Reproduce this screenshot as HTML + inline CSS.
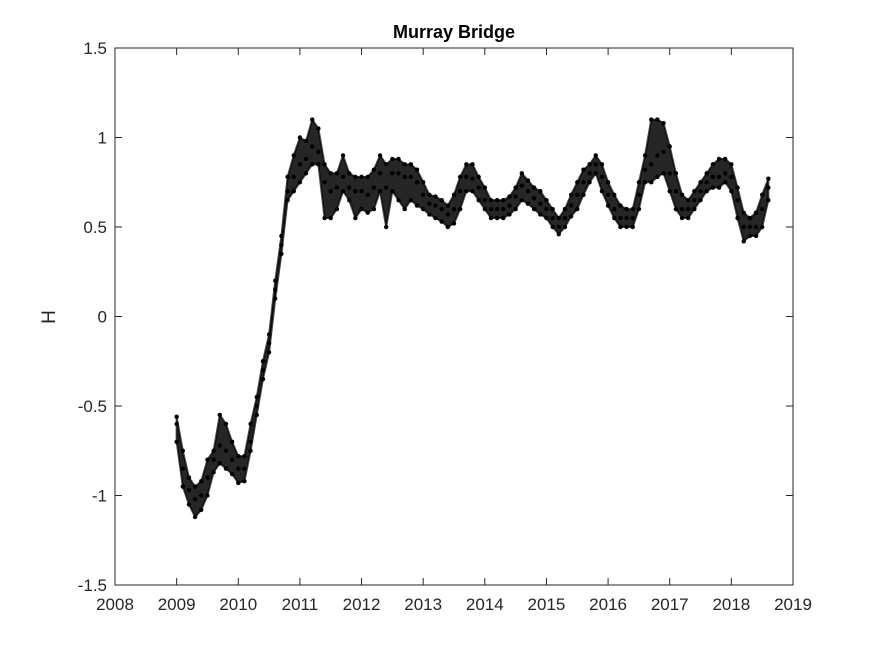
<!DOCTYPE html>
<html><head><meta charset="utf-8"><style>
body{margin:0;background:#fff}
svg text{font-family:"Liberation Sans",sans-serif;fill:#262626}
</style></head><body>
<svg id="chart" width="875" height="656" viewBox="0 0 875 656">
<rect width="875" height="656" fill="#fff"/>
<g id="axes"></g>
<g id="marks"></g>
<text x="454" y="38" text-anchor="middle" font-size="18" font-weight="bold" style="fill:#000">Murray Bridge</text>
<text x="0" y="0" transform="translate(55,317) rotate(-90)" text-anchor="middle" font-size="19">H</text>
</svg>
<script>
const years=[2009.0,2009.1,2009.2,2009.3,2009.4,2009.5,2009.6,2009.7,2009.8,2009.9,2010.0,2010.1,2010.2,2010.3,2010.4,2010.5,2010.6,2010.7,2010.8,2010.9,2011.0,2011.1,2011.2,2011.3,2011.4,2011.5,2011.6,2011.7,2011.8,2011.9,2012.0,2012.1,2012.2,2012.3,2012.4,2012.5,2012.6,2012.7,2012.8,2012.9,2013.0,2013.1,2013.2,2013.3,2013.4,2013.5,2013.6,2013.7,2013.8,2013.9,2014.0,2014.1,2014.2,2014.3,2014.4,2014.5,2014.6,2014.7,2014.8,2014.9,2015.0,2015.1,2015.2,2015.3,2015.4,2015.5,2015.6,2015.7,2015.8,2015.9,2016.0,2016.1,2016.2,2016.3,2016.4,2016.5,2016.6,2016.7,2016.8,2016.9,2017.0,2017.1,2017.2,2017.3,2017.4,2017.5,2017.6,2017.7,2017.8,2017.9,2018.0,2018.1,2018.2,2018.3,2018.4,2018.5,2018.6];
const midH=[-0.6,-0.85,-0.97,-1.02,-1.0,-0.9,-0.8,-0.72,-0.75,-0.8,-0.85,-0.85,-0.7,-0.5,-0.3,-0.15,0.15,0.4,0.7,0.78,0.85,0.88,0.95,0.92,0.75,0.7,0.72,0.78,0.72,0.7,0.7,0.68,0.72,0.8,0.72,0.8,0.8,0.78,0.78,0.75,0.68,0.63,0.62,0.6,0.57,0.6,0.7,0.78,0.77,0.72,0.65,0.6,0.6,0.6,0.62,0.67,0.73,0.7,0.66,0.63,0.6,0.55,0.5,0.55,0.62,0.68,0.75,0.8,0.85,0.78,0.68,0.6,0.55,0.55,0.55,0.68,0.82,0.85,0.9,0.92,0.8,0.7,0.6,0.6,0.65,0.7,0.75,0.78,0.78,0.8,0.78,0.65,0.5,0.5,0.5,0.6,0.72];
const loH=[-0.7,-0.95,-1.05,-1.12,-1.08,-1.0,-0.87,-0.82,-0.85,-0.88,-0.93,-0.92,-0.75,-0.55,-0.35,-0.2,0.1,0.35,0.65,0.7,0.75,0.8,0.85,0.85,0.55,0.55,0.6,0.7,0.65,0.55,0.6,0.58,0.6,0.7,0.5,0.7,0.65,0.6,0.65,0.62,0.6,0.57,0.55,0.53,0.5,0.52,0.6,0.7,0.7,0.65,0.6,0.55,0.55,0.55,0.57,0.6,0.65,0.63,0.6,0.57,0.55,0.5,0.46,0.5,0.56,0.6,0.68,0.75,0.8,0.7,0.62,0.55,0.5,0.5,0.5,0.6,0.75,0.75,0.78,0.8,0.7,0.6,0.55,0.55,0.6,0.65,0.7,0.72,0.72,0.75,0.7,0.55,0.42,0.45,0.45,0.5,0.65];
const hiH=[-0.56,-0.75,-0.9,-0.95,-0.92,-0.8,-0.75,-0.55,-0.6,-0.7,-0.78,-0.78,-0.6,-0.45,-0.25,-0.1,0.2,0.45,0.78,0.9,1.0,0.98,1.1,1.05,0.85,0.8,0.8,0.9,0.8,0.78,0.78,0.78,0.82,0.9,0.85,0.88,0.88,0.85,0.85,0.82,0.75,0.68,0.67,0.65,0.62,0.68,0.78,0.85,0.85,0.78,0.72,0.65,0.65,0.65,0.67,0.72,0.8,0.76,0.72,0.7,0.65,0.6,0.55,0.6,0.68,0.75,0.82,0.85,0.9,0.85,0.75,0.68,0.62,0.6,0.6,0.75,0.9,1.1,1.1,1.08,0.95,0.8,0.68,0.65,0.7,0.75,0.8,0.85,0.88,0.88,0.85,0.72,0.58,0.55,0.58,0.68,0.77];
const xTicks=[2008,2009,2010,2011,2012,2013,2014,2015,2016,2017,2018,2019];
const yTicks=[-1.5,-1,-0.5,0,0.5,1,1.5];
const yTickLabels=["-1.5","-1","-0.5","0","0.5","1","1.5"];

const L=115,R=793,T=48,B=585;
const xS=v=>L+(v-2008)/(2019-2008)*(R-L);
const yS=v=>B-(v+1.5)/3*(B-T);
const NS="http://www.w3.org/2000/svg";
const ax=document.getElementById('axes'),mk=document.getElementById('marks');
function mkEl(tag,attrs,parent){const e=document.createElementNS(NS,tag);for(const k in attrs)e.setAttribute(k,attrs[k]);parent.appendChild(e);return e;}

const box=mkEl('rect',{x:L,y:T,width:R-L,height:B-T,fill:'none',stroke:'#262626','stroke-width':1},ax);


xTicks.forEach(t=>{
  const x=xS(t);
  mkEl('line',{x1:x,y1:B,x2:x,y2:B-7,stroke:'#262626'},ax);
  mkEl('line',{x1:x,y1:T,x2:x,y2:T+7,stroke:'#262626'},ax);
  const tx=mkEl('text',{x:x,y:B+25,'text-anchor':'middle','font-size':17},ax);
  tx.textContent=t;
  
  
});
yTicks.forEach((t,i)=>{
  const y=yS(t);
  mkEl('line',{x1:L,y1:y,x2:L+7,y2:y,stroke:'#262626'},ax);
  mkEl('line',{x1:R,y1:y,x2:R-7,y2:y,stroke:'#262626'},ax);
  const tx=mkEl('text',{x:L-8,y:y+6,'text-anchor':'end','font-size':17},ax);
  tx.textContent=yTickLabels[i];
  
  
});

let pts=years.map((y,i)=>xS(y)+','+yS(hiH[i]));
for(let i=years.length-1;i>=0;i--)pts.push(xS(years[i])+','+yS(loH[i]));
const band=mkEl('polygon',{points:pts.join(' '),fill:'#000','fill-opacity':0.85,stroke:'#000','stroke-width':2,'stroke-linejoin':'round','stroke-opacity':0.7},mk);



[midH,loH,hiH].forEach(series=>{
  series.forEach((v,i)=>{
    const c=mkEl('circle',{cx:xS(years[i]),cy:yS(v),r:2.2,fill:'#000'},mk);
    
    
  });
});
</script>
</body></html>
